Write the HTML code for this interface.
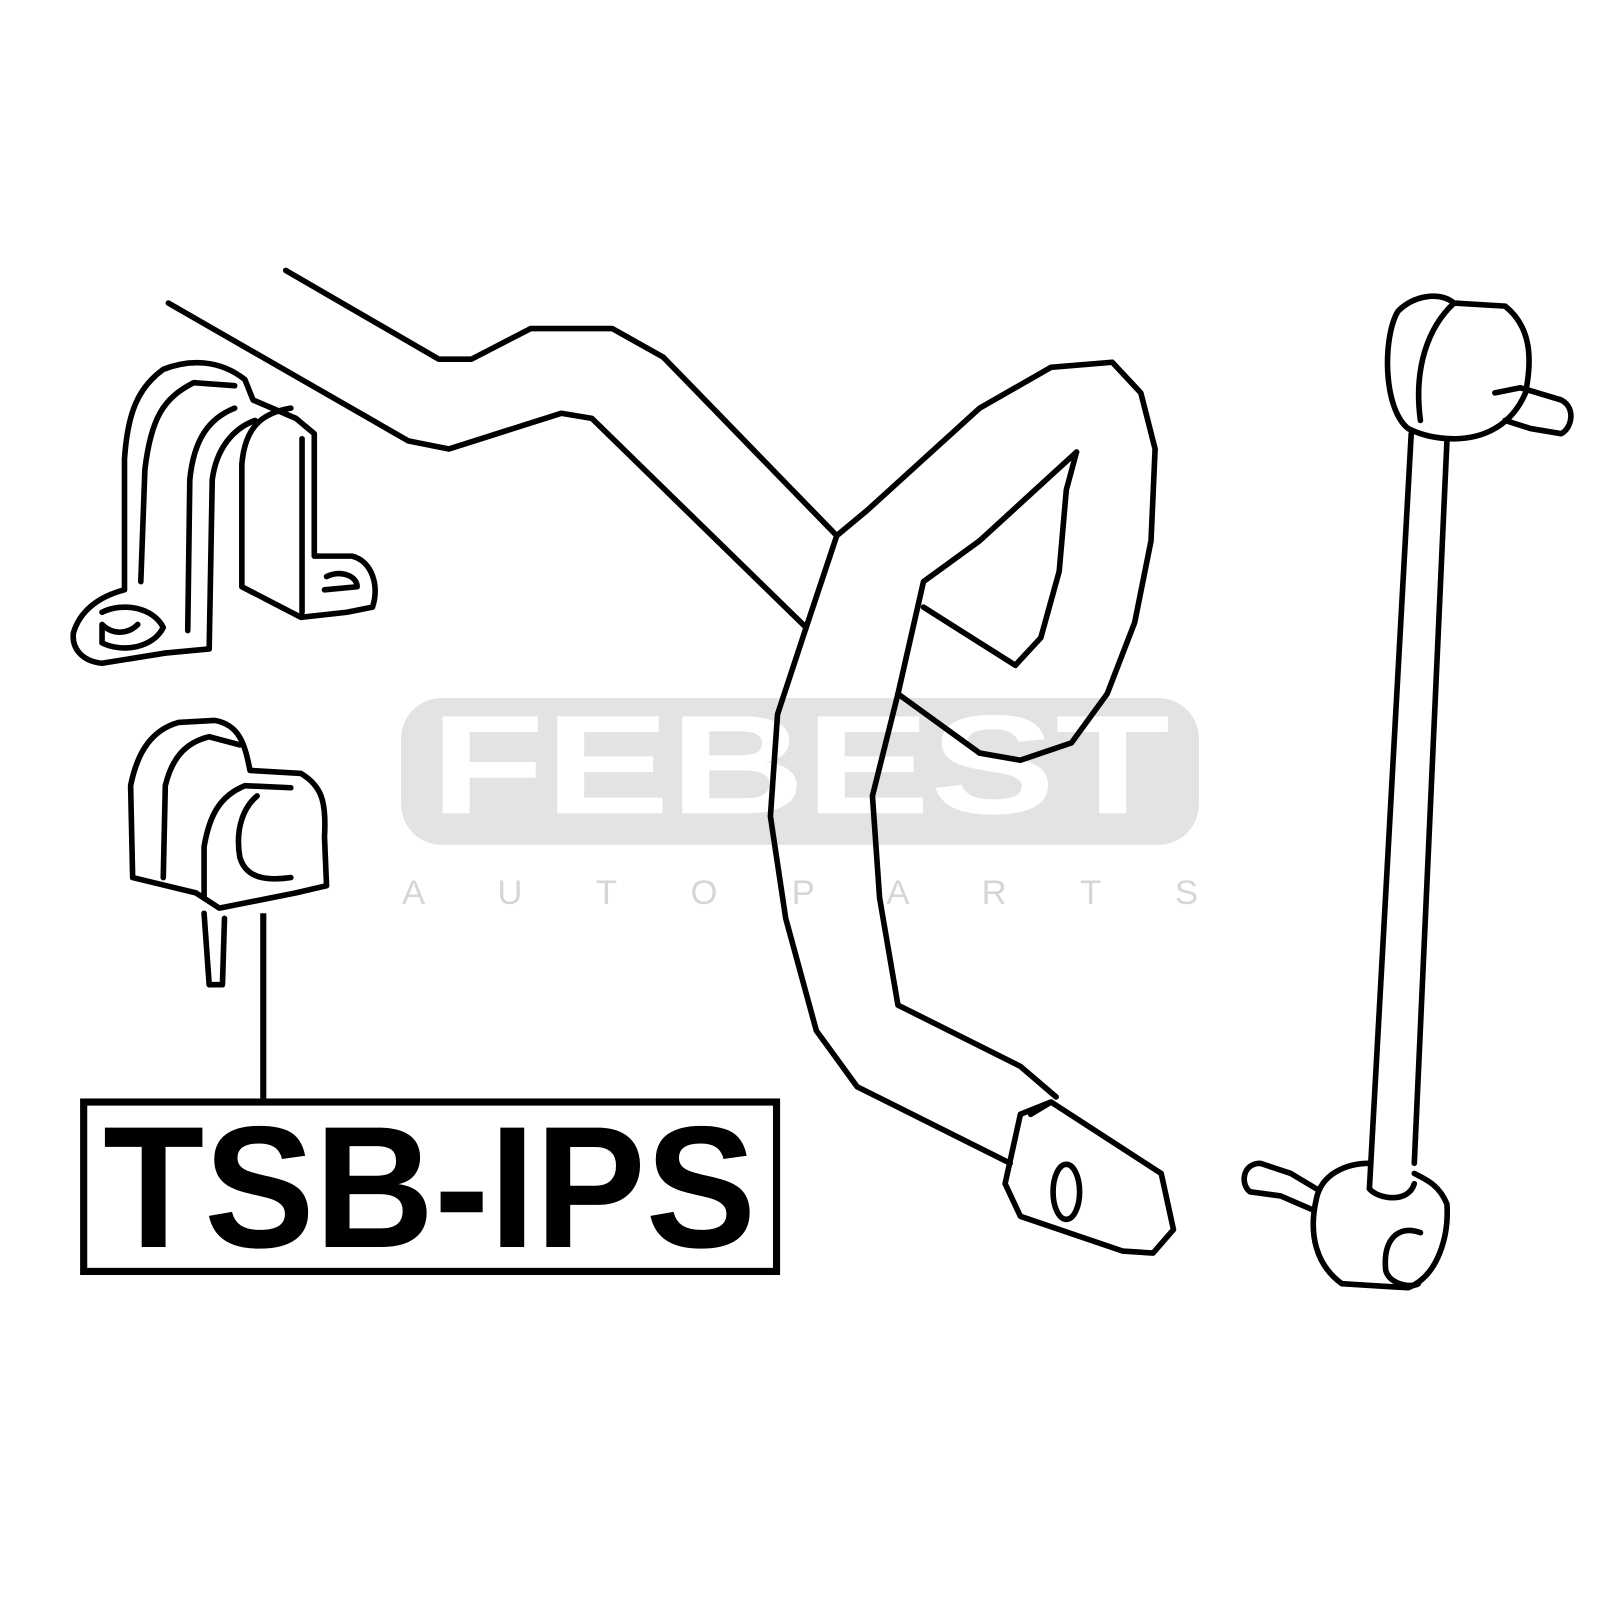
<!DOCTYPE html>
<html><head><meta charset="utf-8"><style>
html,body{margin:0;padding:0;background:#fff;}
svg{display:block;}
</style></head><body>
<svg width="1600" height="1600" viewBox="0 0 1568 1568" xmlns="http://www.w3.org/2000/svg">
<rect width="1568" height="1568" fill="#fff"/>
<rect x="393" y="684" width="782" height="144" rx="40" fill="#e3e3e3"/>
<text x="784" y="797" text-anchor="middle" font-family="Liberation Sans, sans-serif" font-weight="bold" font-size="138" fill="#fff" textLength="725" lengthAdjust="spacingAndGlyphs">FEBEST</text>
<text x="784" y="886" text-anchor="middle" font-family="Liberation Sans, sans-serif" font-size="34" fill="#d6d6d6" textLength="780" lengthAdjust="spacing">A U T O   P A R T S</text>

<g fill="none" stroke="#000" stroke-width="5.5" stroke-linejoin="round" stroke-linecap="round">
<polyline points="280,265 430,352 462,352 520,322 600,322 650,350 820,525"/>
<polyline points="165,297 400,432 440,440 550,405 580,410 790,615"/>
<polyline points="820,525 850,500 960,400 1030,360 1090,355 1118,385 1132,440 1128,530 1112,610 1085,680 1050,728 1000,745 960,738 880,680"/>
<polyline points="820,525 790,615 762,700 755,800 770,900 800,1010 840,1065 990,1140"/>
<polyline points="880,680 905,570 960,530 1055,443"/>
<polyline points="1055,443 1045,480 1038,560 1020,625 995,652 905,595"/>
<polyline points="880,680 855,780 862,880 880,985 1000,1045 1035,1075"/>
<polygon points="1000,1092 1030,1080 1138,1150 1150,1205 1130,1228 1100,1226 1000,1192 985,1160"/>
<ellipse cx="1045" cy="1168" rx="13" ry="27"/>
<line x1="1030" y1="1080" x2="1010" y2="1092"/>

<path d="M1380,420 C1355,400 1355,330 1370,305 C1385,290 1410,285 1425,297 L1475,300 C1500,320 1502,350 1495,385 C1480,420 1450,430 1425,430 C1405,430 1390,425 1380,420 Z"/>
<path d="M1425,297 C1400,320 1385,360 1392,412"/>
<path d="M1465,385 L1490,380 L1530,392 C1545,400 1540,420 1530,425 L1500,420 L1475,412"/>
<line x1="1383" y1="425" x2="1342" y2="1165"/>
<line x1="1418" y1="432" x2="1386" y2="1140"/>
<path d="M1342,1140 C1320,1140 1295,1150 1290,1175 C1282,1210 1290,1240 1315,1258 L1380,1262 C1410,1250 1420,1210 1418,1180 C1410,1160 1395,1155 1386,1150"/>
<path d="M1342,1165 C1350,1175 1380,1180 1386,1160"/>
<path d="M1392,1208 C1370,1200 1355,1215 1358,1245 C1362,1260 1385,1262 1390,1258"/>
<path d="M1290,1165 L1265,1150 L1235,1140 C1218,1140 1215,1160 1225,1168 L1255,1172 L1285,1185"/>

<path d="M162,640 L100,650 C80,648 70,635 72,620 C78,600 95,585 122,578 L122,450 C125,405 135,380 160,362 C185,352 215,352 240,372 L248,392 L290,410 L308,425 L308,545 L345,545 C365,550 372,575 365,595 L340,600 L295,605 L237,575 L237,455 C240,420 255,405 285,400"/>
<path d="M162,640 L205,636 L208,470 C212,440 228,420 250,412"/>
<path d="M138,570 L142,460 C148,410 160,390 190,375 L230,378"/>
<path d="M184,618 L186,470 C190,430 205,410 230,400"/>
<path d="M100,600 C120,590 150,595 160,615 C150,635 120,640 100,630 L100,612 C110,622 125,622 135,612"/>
<path d="M320,565 C335,558 350,565 350,575 L318,578"/>
<line x1="296" y1="430" x2="296" y2="600"/>

<path d="M130,860 L128,770 C135,735 150,715 175,708 L210,706 C235,710 240,730 245,755 L295,758 C315,770 320,785 318,820 L320,868 L290,875 L215,890 L192,875 Z"/>
<path d="M160,860 L162,770 C168,745 180,728 205,722 L235,730"/>
<path d="M200,880 L200,830 C205,800 215,780 240,770 L285,772"/>
<path d="M252,780 C240,790 230,810 235,840 C242,865 270,862 285,860"/>
<path d="M200,895 L205,965 L218,965 L220,900"/>
</g>

<line x1="258" y1="895" x2="258" y2="1080" stroke="#000" stroke-width="6"/>
<rect x="82" y="1080" width="679" height="166" fill="none" stroke="#000" stroke-width="7"/>
<text x="421" y="1222" text-anchor="middle" font-family="Liberation Sans, sans-serif" font-weight="bold" font-size="170" fill="#000" textLength="640" lengthAdjust="spacingAndGlyphs">TSB-IPS</text>
</svg>
</body></html>
